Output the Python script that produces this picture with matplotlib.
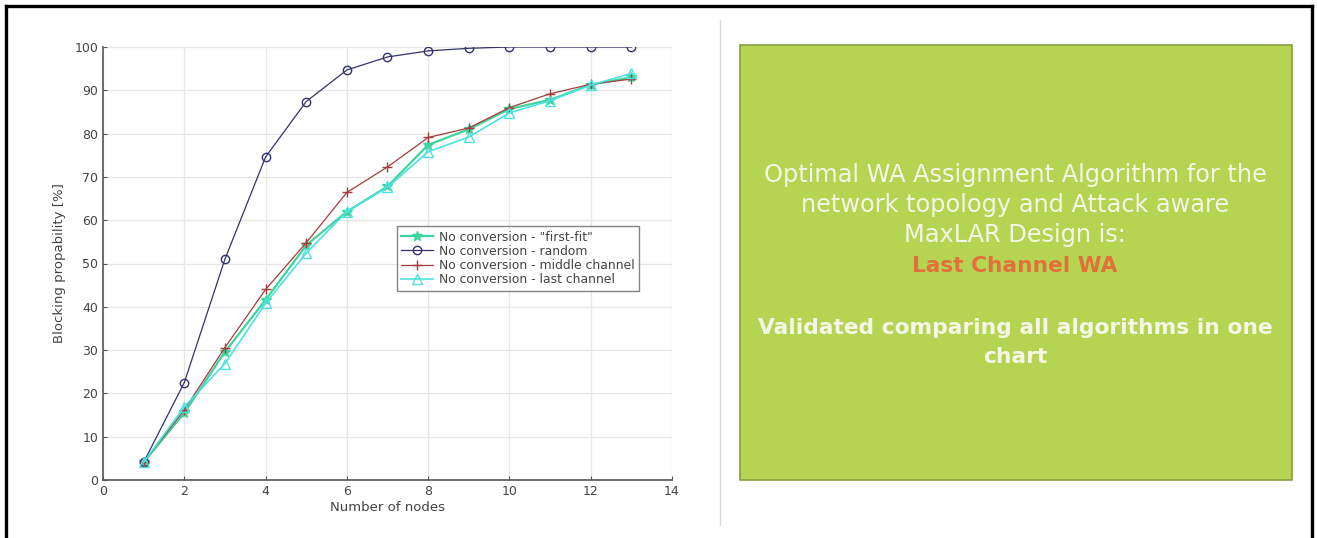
import matplotlib
matplotlib.use("Agg")
import matplotlib.pyplot as plt
from matplotlib.lines import Line2D
from matplotlib.patches import Rectangle

# Blocking probability [%] against number of nodes for four wavelength assignment strategies
nodes = [1, 2, 3, 4, 5, 6, 7, 8, 9, 10, 11, 12, 13]
first_fit = [4.1, 15.5, 29.6, 41.6, 54.2, 62.0, 67.8, 77.4, 81.0, 85.7, 87.8, 91.3, 93.0]
random_wa = [4.1, 22.5, 51.0, 74.6, 87.4, 94.7, 97.7, 99.1, 99.7, 100.0, 100.0, 100.0, 100.0]
middle_channel = [4.1, 16.2, 30.6, 44.0, 54.8, 66.4, 72.3, 79.1, 81.3, 86.0, 89.2, 91.4, 92.6]
last_channel = [4.1, 16.9, 26.9, 40.8, 52.4, 62.0, 67.6, 75.8, 79.2, 84.8, 87.6, 91.2, 93.9]

series_labels = [
    'No conversion - "first-fit"',
    "No conversion - random",
    "No conversion - middle channel",
    "No conversion - last channel",
]
x_ticks = [0, 2, 4, 6, 8, 10, 12, 14]
y_ticks = [0, 10, 20, 30, 40, 50, 60, 70, 80, 90, 100]

W, H = 1317, 538
fig = plt.figure(figsize=(W / 100, H / 100), dpi=100)
fig.patch.set_facecolor("white")

ax = fig.add_axes([103 / W, 1 - 480 / H, (672 - 103) / W, (480 - 47) / H])

styles = [
    dict(color="#3fd49b", marker="*", markersize=7, mfc="#3fd49b", mec="#3fd49b", lw=1.6),
    dict(color="#33336f", marker="o", markersize=6, mfc="none", mec="#33336f", lw=0.9),
    dict(color="#a63c3c", marker="+", markersize=7.5, mfc="none", mec="#a63c3c", lw=0.9),
    dict(color="#4de2e2", marker="^", markersize=7, mfc="none", mec="#4de2e2", lw=1.2),
]
for ys, lab, st in zip([first_fit, random_wa, middle_channel, last_channel], series_labels, styles):
    ax.plot(nodes, ys, label=lab, **st)

ax.set_xlim(0, 14)
ax.set_ylim(0, 100)
ax.set_xticks(x_ticks)
ax.set_yticks(y_ticks)
ax.grid(True, color="#e6e6e6", lw=0.9)
ax.set_axisbelow(True)
for side in ("top", "right"):
    ax.spines[side].set_visible(False)
for side in ("left", "bottom"):
    ax.spines[side].set_color("#555555")
    ax.spines[side].set_linewidth(1.2)
ax.tick_params(axis="both", labelsize=9, colors="#555555", labelcolor="#444444",
               direction="in", length=3)
ax.set_xlabel("Number of nodes", fontsize=9.5, color="#444444", labelpad=2)
ax.set_ylabel("Blocking propability [%]", fontsize=9.5, color="#444444", labelpad=6)

leg = ax.legend(loc="upper left", bbox_to_anchor=(0.516, 0.586), fontsize=8.9,
                frameon=True, fancybox=False, borderpad=0.35, labelspacing=0.1,
                handlelength=2.6, handletextpad=0.5, borderaxespad=0)
leg.get_frame().set_edgecolor("#666666")
leg.get_frame().set_linewidth(1.0)
for t in leg.get_texts():
    t.set_color("#444444")

# Outer frame (left, top, right) and divider
fig.add_artist(Line2D([6 / W, 6 / W], [0, 1 - 6 / H], transform=fig.transFigure, color="black", lw=2.4))
fig.add_artist(Line2D([6 / W, 1312 / W], [1 - 6 / H, 1 - 6 / H], transform=fig.transFigure, color="black", lw=2.4))
fig.add_artist(Line2D([1312 / W, 1312 / W], [0, 1 - 6 / H], transform=fig.transFigure, color="black", lw=2.4))
fig.add_artist(Line2D([720 / W, 720 / W], [1 - 525 / H, 1 - 20 / H], transform=fig.transFigure, color="#d8d8d8", lw=1.0))

# Conclusion panel
fig.add_artist(Rectangle((740 / W, 1 - 480 / H), (1292 - 740) / W, (480 - 45) / H,
                         transform=fig.transFigure, facecolor="#b4d452", edgecolor="#86a03c", lw=1.2))
cx = 1015 / W
light = "#f6f6e6"
for y, s, col, wt, size in [
    (175, "Optimal WA Assignment Algorithm for the", light, "normal", 17.3),
    (205, "network topology and Attack aware", light, "normal", 17.3),
    (235, "MaxLAR Design is:", light, "normal", 17.3),
    (266, "Last Channel WA", "#e2703a", "bold", 15.6),
    (328, "Validated comparing all algorithms in one", light, "bold", 15.7),
    (357, "chart", light, "bold", 15.7),
]:
    fig.text(cx, 1 - y / H, s, ha="center", va="center", fontsize=size, color=col,
             fontweight=wt, family="DejaVu Sans")

fig.savefig("out.png", dpi=100)
